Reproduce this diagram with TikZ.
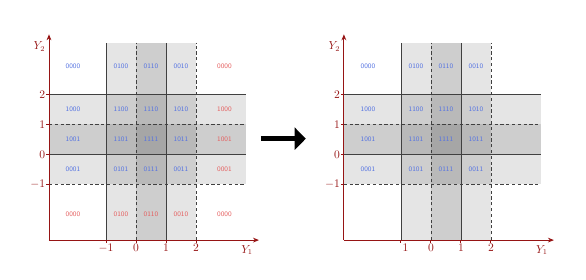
\documentclass[tikz,border=0pt]{standalone}
\usepackage{amsmath}
\usepackage{tikz}
\usetikzlibrary{arrows.meta, positioning}
\definecolor{axred}{RGB}{150,20,20}
\definecolor{codeblue}{RGB}{85,115,225}
\definecolor{codered}{RGB}{228,95,95}

\begin{document}
\begin{tikzpicture}[
  band/.style={fill=black, fill opacity=0.1, draw=none},
  solidln/.style={draw=black!75, line width=0.6pt},
  dashln/.style={draw=black!75, line width=0.6pt, dash pattern=on 3pt off 2.5pt},
  axisln/.style={draw=axred, line width=0.9pt, -{Stealth[length=2mm, width=1.6mm]}},
  tickln/.style={draw=axred, line width=0.9pt},
  ticklab/.style={text=axred, font=\fontsize{10.5}{12}\selectfont, inner sep=1pt},
  code/.style={font=\sffamily\fontsize{6.5}{7}\selectfont, inner sep=0pt},
  bigarr/.style={-{Triangle[length=3.7mm, width=7.3mm]}, line width=4.6pt}]
\useasboundingbox (-4.533,-4.19) rectangle (15.0,5.143);

% both planes: bands, grid, axes, blue codes
\foreach \p/\sx in {L/0, R/9.83} {
  \begin{scope}[xshift=\sx cm]
  \fill[band] (-2.9,-1) rectangle (3.66,2);
  \fill[band] (-2.9,0) rectangle (3.66,1);
  \fill[band] (-1,-2.86) rectangle (2,3.72);
  \fill[band] (0,-2.86) rectangle (1,3.72);
  \foreach \v in {0,2} \draw[solidln] (-2.9,\v) -- (3.66,\v);
  \foreach \v in {-1,1} \draw[dashln] (-2.9,\v) -- (3.66,\v);
  \foreach \u in {-1,1} \draw[solidln] (\u,-2.86) -- (\u,3.72);
  \foreach \u in {0,2} \draw[dashln] (\u,-2.86) -- (\u,3.72);
  \coordinate (\p-o) at (-2.9,-2.86);
  \coordinate (\p-xe) at (4.1,-2.86);
  \coordinate (\p-ye) at (-2.9,4.0);
  \draw[axisln] (\p-o) -- (\p-xe);
  \draw[axisln] (\p-o) -- (\p-ye);
  \foreach \v/\l in {2/2, 1/1, 0/0, -1/-1} {
    \draw[tickln] (-2.99,\v) -- (-2.9,\v);
    \node[ticklab, left] (\p-yt\v) at (-2.99,\v) {$\l$};
  }
  \foreach \u in {0,1,2} {
    \draw[tickln] (\u,-2.86) -- (\u,-2.95);
    \node[ticklab, below] (\p-xt\u) at (\u,-2.95) {$\u$};
  }
  \draw[tickln] (-1,-2.86) -- (-1,-2.95);
  \node[ticklab] (\p-yl) at (-3.22,3.58) {$Y_2$};
  \node[ticklab] (\p-xl) at (3.7,-3.19) {$Y_1$};
  \foreach \x/\y/\t [count=\i] in {
      -2.1/2.92/0000, -0.5/2.92/0100, 0.5/2.92/0110, 1.5/2.92/0010,
      -2.1/1.5/1000, -0.5/1.5/1100, 0.5/1.5/1110, 1.5/1.5/1010,
      -2.1/0.5/1001, -0.5/0.5/1101, 0.5/0.5/1111, 1.5/0.5/1011,
      -2.1/-0.5/0001, -0.5/-0.5/0101, 0.5/-0.5/0111, 1.5/-0.5/0011}
    \node[code, text=codeblue] (\p-b\i) at (\x,\y) {\t};
  \end{scope}
}

% left plane only: red codes
\foreach \x/\y/\t [count=\i] in {
    2.95/2.92/0000, 2.95/1.5/1000, 2.95/0.5/1001, 2.95/-0.5/0001,
    -2.1/-2.0/0000, -0.5/-2.0/0100, 0.5/-2.0/0110, 1.5/-2.0/0010, 2.95/-2.0/0000}
  \node[code, text=codered] (L-r\i) at (\x,\y) {\t};

\node[ticklab, below] (L-xtm) at (-1,-2.95) {$-1$};
\node[ticklab, below] (R-xtm) at (8.83,-2.95) {$\phantom{-}1$};

\coordinate (arrs) at (4.16,0.52);
\coordinate (arre) at (5.66,0.52);
\draw[bigarr] (arrs) -- (arre);
\end{tikzpicture}
\end{document}
